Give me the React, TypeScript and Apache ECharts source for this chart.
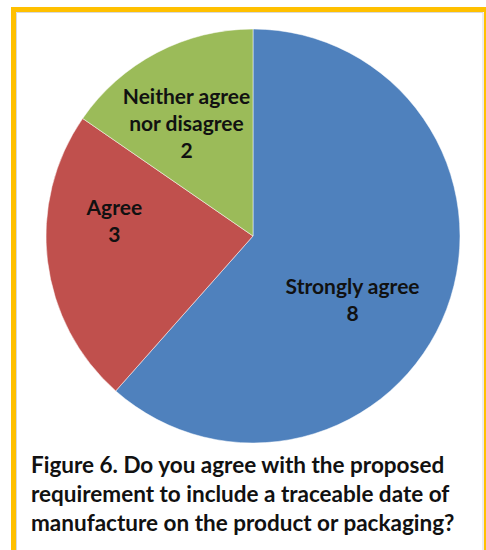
import React, { useEffect, useRef } from "react";
import * as echarts from "echarts";

const categories = ["Strongly agree", "Agree", "Neither agree\nnor disagree"];
const values = [8, 3, 2];
const colors = ["#4F81BD", "#C0504D", "#9BBB59"];
const labelOffsets = [[0, 25], [-33, -29], [-17, -19]];
const captionLines = [
  "Figure 6. Do you agree with the proposed",
  "requirement to include a traceable date of",
  "manufacture on the product or packaging?",
];

export default function App() {
  const ref = useRef<HTMLDivElement>(null);
  useEffect(() => {
    const chart = echarts.init(ref.current!, null, { renderer: "svg" });
    chart.setOption({
      animation: false,
      backgroundColor: "#ffffff",
      graphic: [
        {
          type: "rect",
          shape: { x: 13.5, y: 9.5, width: 473, height: 600 },
          style: { fill: "none", stroke: "#FFC000", lineWidth: 5 },
          z: 0,
        },
        {
          type: "rect",
          shape: { x: 16.5, y: 12.5, width: 466.5, height: 600 },
          style: { fill: "none", stroke: "#D9D9D9", lineWidth: 1 },
          z: 0,
        },
        {
          type: "text",
          x: 31,
          y: 450,
          style: {
            text: captionLines.join("\n"),
            font: "bold 22.5px Lato",
            fill: "#111111",
            lineHeight: 29,
          },
          z: 10,
        },
      ],
      series: [
        {
          type: "pie",
          center: [253, 236],
          radius: [0, 207],
          startAngle: 90,
          clockwise: true,
          itemStyle: { borderColor: "#ffffff", borderWidth: 0.5 },
          label: {
            show: true,
            position: "inside",
            formatter: "{b}\n{c}",
            fontFamily: "Lato",
            fontWeight: "bold",
            fontSize: 21,
            lineHeight: 27,
            color: "#111111",
            align: "center",
          },
          emphasis: { disabled: true },
          data: categories.map((c, i) => ({
            name: c,
            value: values[i],
            itemStyle: { color: colors[i] },
            label: { offset: labelOffsets[i] },
          })),
        },
      ],
    });
    return () => chart.dispose();
  }, []);
  return (
    <div
      ref={ref}
      style={{ position: "fixed", left: 0, top: 0, width: 486, height: 550 }}
    />
  );
}
